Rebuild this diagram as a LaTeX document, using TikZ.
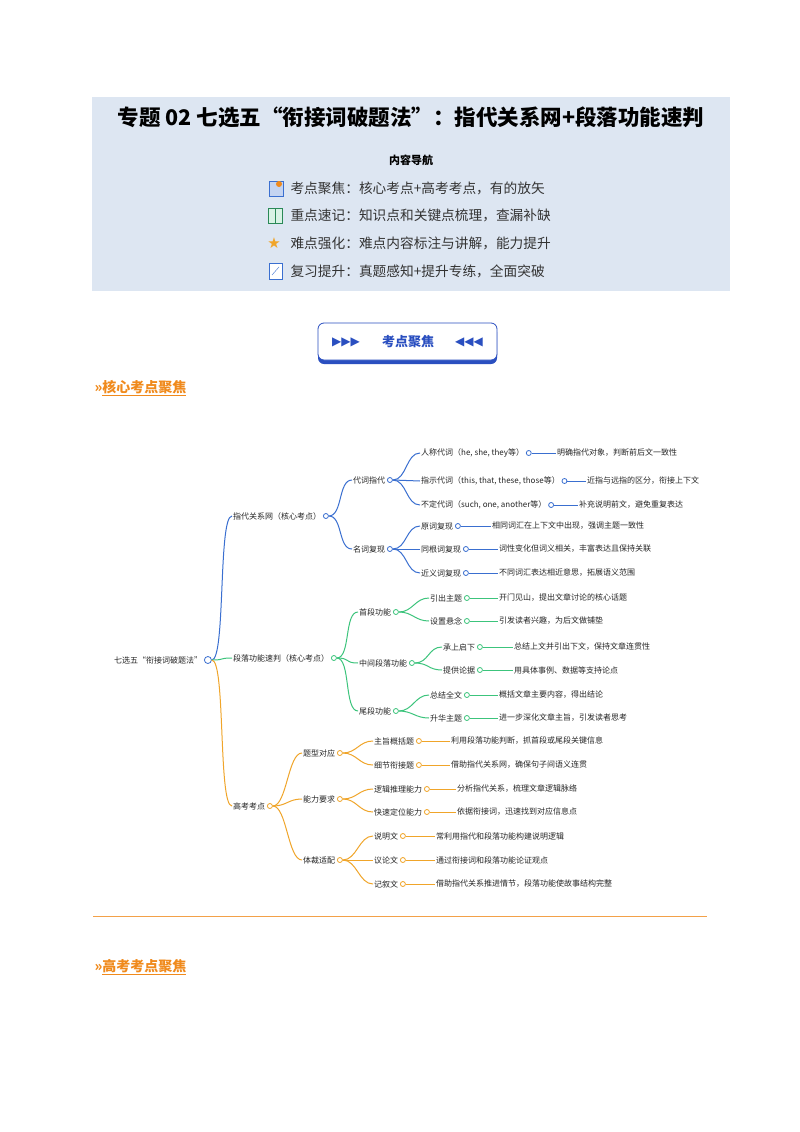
\documentclass[tikz,border=0pt]{standalone}
\usepackage{fontspec}
\setmainfont{Noto Sans CJK SC}
\newfontfamily\sym{DejaVu Sans}
\definecolor{hdr}{HTML}{DDE6F2}
\definecolor{mb}{HTML}{3A6FD0}
\definecolor{mg}{HTML}{3CC47C}
\definecolor{mo}{HTML}{F0A52A}
\definecolor{og}{HTML}{F08A1C}
\definecolor{btn}{HTML}{2A4FC0}
\begin{document}
\begin{tikzpicture}[x=1pt,y=-1pt,
 txt/.style={inner sep=1pt,font=\fontsize{8}{9}\selectfont,text=black!85},
 dot/.style={circle,draw,fill=white,inner sep=0pt,minimum size=5pt,line width=0.8pt},
 lnk/.style={line width=1pt}]
\useasboundingbox (0,0) rectangle (800,1132);
\fill[white] (0,0) rectangle (800,1132);
% header
\fill[hdr] (92,97) rectangle (730,291);
\node[font=\fontsize{21.5}{23}\selectfont\bfseries] (title) at (411,117) {专题 02 七选五“衔接词破题法”：指代关系网+段落功能速判};
\node[font=\fontsize{11}{12}\selectfont\bfseries] (nav) at (411,160) {内容导航};
\begin{scope}[every node/.style={anchor=west,font=\fontsize{13.7}{14}\selectfont,text=black!80}]
\node (i1) at (287,188) {考点聚焦：核心考点+高考考点，有的放矢};
\node (i2) at (287,215) {重点速记：知识点和关键点梳理，查漏补缺};
\node (i3) at (287,243) {难点强化：难点内容标注与讲解，能力提升};
\node (i4) at (287,271) {复习提升：真题感知+提升专练，全面突破};
\end{scope}
% icons
\draw[mb,fill=mb!30] (269,181) rectangle (283,196);
\fill[og] (279,184) circle (3);
\draw[mg!70!black,fill=mg!20] (268,208) rectangle (282,223);
\draw[mg!70!black] (275,208) -- (275,223);
\node[text=mo,font=\sym\fontsize{15}{15}\selectfont] (st) at (274,243) {★};
\draw[mb,fill=white] (269,263) rectangle (282,279);
\draw[mb] (272,275) -- (279,267);
% button
\fill[btn] (318,326) [rounded corners=6pt] rectangle (497,364);
\draw[btn,fill=white,line width=0.8pt,rounded corners=6pt] (318,323) rectangle (497,360);
\node[text=btn,font=\sym\fontsize{12}{12}\selectfont] (ta) at (346,342) {▶▶▶};
\node[text=btn,font=\fontsize{13}{14}\selectfont\bfseries] (bt) at (408,342) {考点聚焦};
\node[text=btn,font=\sym\fontsize{12}{12}\selectfont] (tb) at (469,342) {◀◀◀};
% section headers
\node[anchor=west,text=og,font=\fontsize{14}{15}\selectfont\bfseries] (s1) at (91,388) {»\underline{核心考点聚焦}};
\draw[og!80,line width=0.8pt] (93,916) -- (707,916);
\node[anchor=west,text=og,font=\fontsize{14}{15}\selectfont\bfseries] (s2) at (91,967) {»\underline{高考考点聚焦}};
% mind map
\newcommand\mn[5]{\node[txt,anchor=west] (#1) at (#2,#3) {#4};
 \node[dot,draw=#5] (#1c) at ([xshift=3.5pt]#1.east) {};}
\newcommand\ch[3]{\draw[lnk,#3] (#1c.east) .. controls +(14,0) and +(-14,0) .. (#2.west);}
\newcommand\lf[5]{\node[txt,anchor=west] (#1) at (#2,#3) {#4};
 \draw[lnk,#5] (#1p) -- (#1.west);}
\node[txt,anchor=west] (root) at (113,660) {七选五“衔接词破题法”};
\node[dot,draw=mb,minimum size=7pt] (rootc) at ([xshift=4.5pt]root.east) {};
% blue
\mn{a}{232}{516}{指代关系网（核心考点）}{mb}
\mn{a1}{352}{480}{代词指代}{mb}
\mn{a2}{352}{549}{名词复现}{mb}
\mn{a11}{420}{453}{人称代词（he, she, they等）}{mb}
\mn{a12}{420}{481}{指示代词（this, that, these, those等）}{mb}
\mn{a13}{420}{505}{不定代词（such, one, another等）}{mb}
\mn{a21}{420}{526}{原词复现}{mb}
\mn{a22}{420}{549}{同根词复现}{mb}
\mn{a23}{420}{573}{近义词复现}{mb}
\ch{root}{a}{mb}\ch{a}{a1}{mb}\ch{a}{a2}{mb}
\ch{a1}{a11}{mb}\ch{a1}{a12}{mb}\ch{a1}{a13}{mb}
\ch{a2}{a21}{mb}\ch{a2}{a22}{mb}\ch{a2}{a23}{mb}
\coordinate (b11p) at (a11c.east);\lf{b11}{556}{453}{明确指代对象，判断前后文一致性}{mb}
\coordinate (b12p) at (a12c.east);\lf{b12}{586}{481}{近指与远指的区分，衔接上下文}{mb}
\coordinate (b13p) at (a13c.east);\lf{b13}{578}{505}{补充说明前文，避免重复表达}{mb}
\coordinate (b21p) at (a21c.east);\lf{b21}{491}{526}{相同词汇在上下文中出现，强调主题一致性}{mb}
\coordinate (b22p) at (a22c.east);\lf{b22}{498}{549}{词性变化但词义相关，丰富表达且保持关联}{mb}
\coordinate (b23p) at (a23c.east);\lf{b23}{498}{573}{不同词汇表达相近意思，拓展语义范围}{mb}
% green
\mn{g}{232}{658}{段落功能速判（核心考点）}{mg}
\mn{g1}{358}{612}{首段功能}{mg}
\mn{g2}{358}{663}{中间段落功能}{mg}
\mn{g3}{358}{711}{尾段功能}{mg}
\mn{g11}{429}{598}{引出主题}{mg}
\mn{g12}{429}{621}{设置悬念}{mg}
\mn{g21}{442}{647}{承上启下}{mg}
\mn{g22}{442}{670}{提供论据}{mg}
\mn{g31}{429}{695}{总结全文}{mg}
\mn{g32}{429}{718}{升华主题}{mg}
\ch{root}{g}{mg}\ch{g}{g1}{mg}\ch{g}{g2}{mg}\ch{g}{g3}{mg}
\ch{g1}{g11}{mg}\ch{g1}{g12}{mg}\ch{g2}{g21}{mg}\ch{g2}{g22}{mg}\ch{g3}{g31}{mg}\ch{g3}{g32}{mg}
\coordinate (h11p) at (g11c.east);\lf{h11}{498}{598}{开门见山，提出文章讨论的核心话题}{mg}
\coordinate (h12p) at (g12c.east);\lf{h12}{498}{621}{引发读者兴趣，为后文做铺垫}{mg}
\coordinate (h21p) at (g21c.east);\lf{h21}{513}{647}{总结上文并引出下文，保持文章连贯性}{mg}
\coordinate (h22p) at (g22c.east);\lf{h22}{513}{670}{用具体事例、数据等支持论点}{mg}
\coordinate (h31p) at (g31c.east);\lf{h31}{498}{695}{概括文章主要内容，得出结论}{mg}
\coordinate (h32p) at (g32c.east);\lf{h32}{498}{718}{进一步深化文章主旨，引发读者思考}{mg}
% orange
\mn{o}{232}{806}{高考考点}{mo}
\mn{o1}{302}{753}{题型对应}{mo}
\mn{o2}{302}{799}{能力要求}{mo}
\mn{o3}{302}{860}{体裁适配}{mo}
\mn{o11}{373}{741}{主旨概括题}{mo}
\mn{o12}{373}{765}{细节衔接题}{mo}
\mn{o21}{373}{789}{逻辑推理能力}{mo}
\mn{o22}{373}{812}{快速定位能力}{mo}
\mn{o31}{373}{836}{说明文}{mo}
\mn{o32}{373}{860}{议论文}{mo}
\mn{o33}{373}{884}{记叙文}{mo}
\ch{root}{o}{mo}\ch{o}{o1}{mo}\ch{o}{o2}{mo}\ch{o}{o3}{mo}
\ch{o1}{o11}{mo}\ch{o1}{o12}{mo}\ch{o2}{o21}{mo}\ch{o2}{o22}{mo}
\ch{o3}{o31}{mo}\ch{o3}{o32}{mo}\ch{o3}{o33}{mo}
\coordinate (p11p) at (o11c.east);\lf{p11}{450}{741}{利用段落功能判断，抓首段或尾段关键信息}{mo}
\coordinate (p12p) at (o12c.east);\lf{p12}{450}{765}{借助指代关系网，确保句子间语义连贯}{mo}
\coordinate (p21p) at (o21c.east);\lf{p21}{456}{789}{分析指代关系，梳理文章逻辑脉络}{mo}
\coordinate (p22p) at (o22c.east);\lf{p22}{456}{812}{依据衔接词，迅速找到对应信息点}{mo}
\coordinate (p31p) at (o31c.east);\lf{p31}{435}{836}{常利用指代和段落功能构建说明逻辑}{mo}
\coordinate (p32p) at (o32c.east);\lf{p32}{435}{860}{通过衔接词和段落功能论证观点}{mo}
\coordinate (p33p) at (o33c.east);\lf{p33}{435}{884}{借助指代关系推进情节，段落功能使故事结构完整}{mo}
\end{tikzpicture}
\end{document}
